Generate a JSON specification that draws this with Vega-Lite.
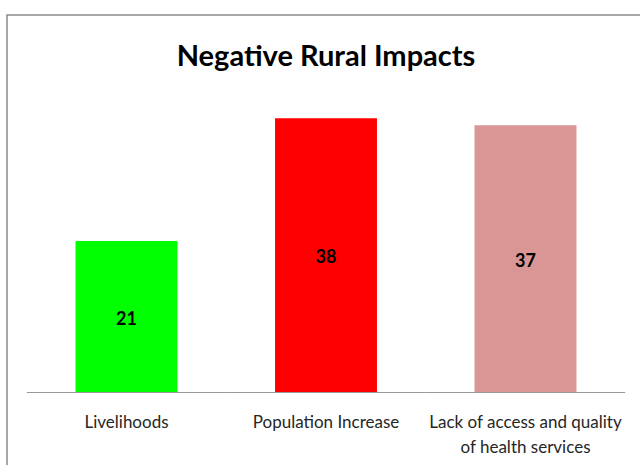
{
  "$schema": "https://vega.github.io/schema/vega-lite/v6.json",
  "autosize": "none",
  "padding": {"left": 7, "top": 15, "right": 0, "bottom": 0},
  "width": 638,
  "height": 460,
  "title": {
    "text": "Negative Rural Impacts",
    "font": "Lato",
    "fontSize": 29,
    "fontWeight": "bold",
    "color": "#000000",
    "anchor": "middle",
    "baseline": "alphabetic",
    "offset": -80
  },
  "data": {
    "values": [
      {"impact": "Livelihoods", "count": 21, "shade": "#00FF00"},
      {"impact": "Population Increase", "count": 38, "shade": "#FF0000"},
      {"impact": "Lack of access and quality of health services", "count": 37, "shade": "#D99694"}
    ]
  },
  "encoding": {
    "x": {
      "field": "impact",
      "type": "nominal",
      "sort": null,
      "scale": {"paddingInner": 0, "paddingOuter": 0.099},
      "axis": {
        "orient": "bottom",
        "offset": -82.5,
        "title": null,
        "domain": false,
        "ticks": false,
        "grid": false,
        "labelAngle": 0,
        "labelPadding": 22,
        "labelFont": "Lato",
        "labelFontSize": 17,
        "labelColor": "#262626",
        "labelLineHeight": 25,
        "labelLimit": 400,
        "labelExpr": "datum.value == 'Lack of access and quality of health services' ? ['Lack of access and quality', 'of health services'] : datum.label"
      }
    }
  },
  "layer": [
    {
      "mark": {"type": "bar", "width": {"band": 0.511}},
      "encoding": {
        "y": {
          "field": "count",
          "type": "quantitative",
          "scale": {"domain": [-11.427, 52.285], "nice": false, "zero": false},
          "axis": null
        },
        "color": {"field": "shade", "type": "nominal", "scale": null, "legend": null}
      }
    },
    {
      "mark": {"type": "rule", "color": "#999999", "strokeWidth": 1.2},
      "encoding": {
        "x": {"field": "impact", "type": "nominal", "sort": null, "bandPosition": 0},
        "x2": {"field": "impact", "bandPosition": 1},
        "y": {"datum": 0, "type": "quantitative", "scale": {"domain": [-11.427, 52.285], "nice": false, "zero": false}, "axis": null}
      }
    },
    {
      "mark": {"type": "text", "font": "Lato", "fontSize": 18, "fontWeight": "bold", "color": "#000000", "baseline": "middle", "align": "center", "dy": 3},
      "encoding": {
        "y": {
          "field": "count",
          "type": "quantitative",
          "scale": {"domain": [-22.854, 104.57], "nice": false, "zero": false},
          "axis": null
        },
        "text": {"field": "count", "type": "quantitative"}
      }
    }
  ],
  "resolve": {"scale": {"y": "independent"}},
  "config": {
    "view": {"stroke": "#8a8a8a", "strokeWidth": 1.5},
    "background": "#ffffff"
  }
}
